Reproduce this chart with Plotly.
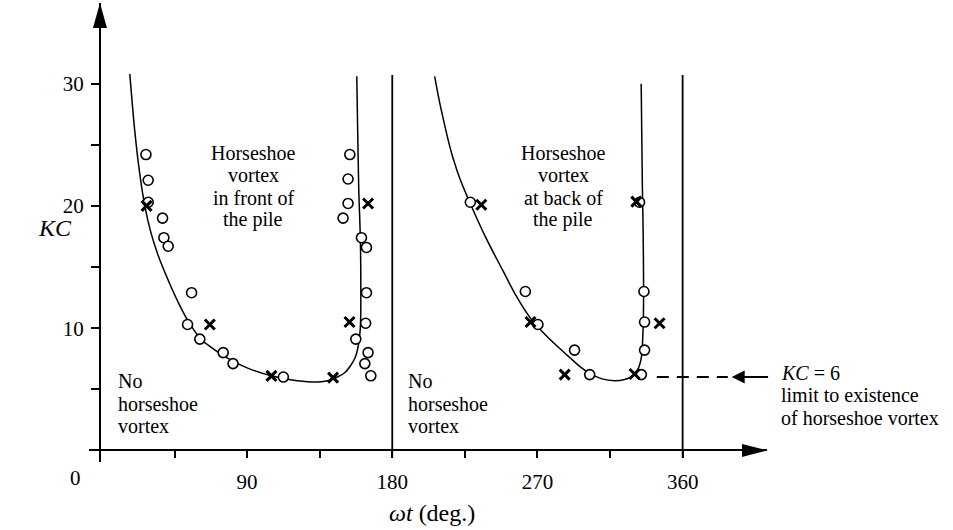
import plotly.graph_objects as go

# ---- data -------------------------------------------------------------
# Open circles: horseshoe vortex observed (phase angle in degrees, KC)
circle_deg = [27.3, 28.7, 28.7, 37.6, 38.4, 41.1, 55.6, 53.1, 60.7, 75.2, 81.3, 112.5,
              153.7, 152.6, 152.6, 149.5, 160.9, 164.0, 164.0, 163.5, 157.4, 165.0, 163.0, 166.7,
              228.4, 262.5, 270.3, 293.0, 302.4, 334.4, 333.3, 336.0, 336.4, 336.4]
circle_kc = [24.2, 22.1, 20.3, 19.0, 17.4, 16.7, 12.9, 10.3, 9.1, 8.0, 7.1, 6.0,
             24.2, 22.2, 20.2, 19.0, 17.4, 16.6, 12.9, 10.4, 9.1, 8.0, 7.1, 6.1,
             20.3, 13.0, 10.3, 8.2, 6.2, 6.2, 20.3, 13.0, 10.5, 8.2]

# Crosses: no horseshoe vortex observed
cross_deg = [27.7, 66.9, 105.1, 143.3, 153.5, 165.0,
             235.2, 265.7, 286.9, 330.2, 331.3, 345.7]
cross_kc = [20.0, 10.3, 6.1, 5.95, 10.5, 20.2,
            20.1, 10.5, 6.2, 6.25, 20.35, 10.4]

# Boundary of the region with a horseshoe vortex in front of the pile
front_curve_deg = [17.3, 20.4, 23.5, 26.6, 30.0, 35.0, 41.5, 47.0, 52.5, 60.7, 68.0, 75.2,
                   81.3, 90.0, 105.0, 117.0, 130.0, 140.0, 146.0, 150.5, 154.0, 157.0,
                   159.0, 160.2, 160.5, 160.2, 159.3, 158.7, 158.0]
front_curve_kc = [30.8, 26.1, 22.6, 20.0, 18.0, 15.9, 13.8, 12.2, 10.8, 9.2, 8.4, 7.75,
                  7.3, 6.75, 6.1, 5.78, 5.6, 5.7, 6.0, 6.35, 6.9, 7.6,
                  8.6, 10.0, 13.5, 17.4, 21.0, 25.0, 30.6]

# Boundary of the region with a horseshoe vortex at the back of the pile
back_curve_deg = [206.3, 209.0, 212.0, 215.0, 217.7, 222.0, 228.0, 238.0, 248.6, 257.0,
                  265.2, 270.3, 280.0, 290.0, 296.0, 302.4, 310.0, 317.8, 324.0, 329.0,
                  332.5, 334.4, 335.2, 335.6, 335.8, 335.5, 335.0, 334.3]
back_curve_kc = [30.6, 28.7, 26.9, 25.2, 23.9, 22.2, 20.3, 17.4, 14.7, 12.6,
                 10.9, 10.1, 8.8, 7.6, 6.9, 6.3, 5.85, 5.7, 5.8, 6.1,
                 6.7, 7.6, 9.0, 10.5, 13.1, 18.0, 22.0, 30.0]

x_tick_vals = [45, 90, 135, 180, 225, 270, 315, 360]
x_tick_text = ["", "90", "", "180", "", "270", "", "360"]
y_tick_vals = [5, 10, 15, 20, 25, 30]
y_tick_text = ["", "10", "", "20", "", "30"]

half_cycle_lines = [180, 360]
KC_LIMIT = 6

# ---- layout constants -------------------------------------------------
FONT = "Liberation Serif, Times New Roman, serif"
TICK_SIZE = 21
NOTE_SIZE = 20
LINE_PX = 22.4                         # spacing of stacked text lines, px
L, R, T, B = 89, 186, 3, 68
W, H = 953, 530
PW, PH = W - L - R, H - T - B
X_RANGE = [-8, 412.3]
Y_RANGE = [-0.95, 36.6]
Y_AXIS_AT = -1.2                       # x position of the vertical axis
X_AXIS_POS = (0 - Y_RANGE[0]) / (Y_RANGE[1] - Y_RANGE[0])
Y_AXIS_POS = (Y_AXIS_AT - X_RANGE[0]) / (X_RANGE[1] - X_RANGE[0])
LINE_STEP = LINE_PX * (Y_RANGE[1] - Y_RANGE[0]) / PH   # same spacing in KC units


def paper_x(px):
    return (px - L) / PW


def paper_y(py):
    return (PH - (py - T)) / PH


def note(text, size=NOTE_SIZE, **kw):
    base = dict(text=text, showarrow=False, yanchor="middle",
                font=dict(family=FONT, size=size, color="black"))
    base.update(kw)
    return base


fig = go.Figure()

curve_line = dict(color="black", width=1.5, shape="spline", smoothing=1.0)
fig.add_trace(go.Scatter(x=front_curve_deg, y=front_curve_kc, mode="lines",
                         line=curve_line, hoverinfo="skip"))
fig.add_trace(go.Scatter(x=back_curve_deg, y=back_curve_kc, mode="lines",
                         line=curve_line, hoverinfo="skip"))
fig.add_trace(go.Scatter(x=circle_deg, y=circle_kc, mode="markers", name="vortex",
                         marker=dict(symbol="circle", size=10, color="white",
                                     line=dict(color="black", width=1.6))))
fig.add_trace(go.Scatter(x=cross_deg, y=cross_kc, mode="markers", name="no vortex",
                         marker=dict(symbol="x-thin", size=10, color="black",
                                     line=dict(color="black", width=3))))

shapes = []
for xv in half_cycle_lines:
    shapes.append(dict(type="line", xref="x", yref="y", x0=xv, x1=xv, y0=-0.6, y1=30.7,
                       line=dict(color="black", width=1.8)))
# dashed KC limit line
shapes.append(dict(type="line", xref="x", yref="y", x0=344, x1=388, y0=KC_LIMIT, y1=KC_LIMIT,
                   line=dict(color="black", width=2, dash="12px,8px")))
# axis arrowheads
shapes.append(dict(type="path", xref="x", yref="y", xsizemode="pixel", ysizemode="pixel",
                   xanchor=Y_AXIS_AT, yanchor=Y_RANGE[1], path="M0,0 L-7,-25 L7,-25 Z",
                   fillcolor="black", line=dict(width=0)))
shapes.append(dict(type="path", xref="x", yref="y", xsizemode="pixel", ysizemode="pixel",
                   xanchor=X_RANGE[1], yanchor=0, path="M0,0 L-25,6.5 L-25,-6.5 Z",
                   fillcolor="black", line=dict(width=0)))

annotations = []


def add_block(lines, x, y_top, xanchor):
    for i, txt in enumerate(lines):
        annotations.append(note(txt, x=x, y=y_top - i * LINE_STEP, xref="x", yref="y",
                                xanchor=xanchor))


add_block(["Horseshoe", "vortex", "in front of", "the pile"], 93.9, 24.35, "center")
add_block(["Horseshoe", "vortex", "at back of", "the pile"], 286.0, 24.35, "center")
add_block(["No", "horseshoe", "vortex"], 9.0, 5.66, "left")
add_block(["No", "horseshoe", "vortex"], 188.8, 5.66, "left")

# KC limit arrow and its note
annotations.append(dict(x=390.4, y=KC_LIMIT, ax=413.9, ay=KC_LIMIT, xref="x", yref="y",
                        axref="x", ayref="y", text="", showarrow=True, arrowhead=2,
                        arrowsize=1.3, arrowwidth=2, arrowcolor="black"))
for i, txt in enumerate(["<i>KC</i> = 6", "limit to existence", "of horseshoe vortex"]):
    annotations.append(note(txt, x=paper_x(779), y=paper_y(372.8 + i * LINE_PX),
                            xref="paper", yref="paper", xanchor="left"))

# axis titles and origin label
annotations.append(note("<i>KC</i>", size=24, x=paper_x(55), y=paper_y(228),
                        xref="paper", yref="paper", xanchor="center"))
annotations.append(note("<i>ωt</i> (deg.)", size=24, x=paper_x(432), y=paper_y(513),
                        xref="paper", yref="paper", xanchor="center"))
annotations.append(note("0", size=TICK_SIZE, x=paper_x(75), y=paper_y(478),
                        xref="paper", yref="paper", xanchor="center"))

tick_font = dict(family=FONT, size=TICK_SIZE, color="black")
fig.update_layout(
    width=W, height=H,
    margin=dict(l=L, r=R, t=T, b=B),
    paper_bgcolor="white", plot_bgcolor="white",
    showlegend=False,
    shapes=shapes,
    annotations=annotations,
    xaxis=dict(range=X_RANGE, anchor="free", position=X_AXIS_POS, showline=True,
               linecolor="black", linewidth=2, ticks="outside", ticklen=7, tickwidth=1.5,
               tickcolor="black", tickvals=x_tick_vals, ticktext=x_tick_text,
               tickfont=tick_font, ticklabelstandoff=5,
               showgrid=False, zeroline=False),
    yaxis=dict(range=Y_RANGE, anchor="free", position=Y_AXIS_POS, showline=True,
               linecolor="black", linewidth=2, ticks="outside", ticklen=8, tickwidth=1.5,
               tickcolor="black", tickvals=y_tick_vals, ticktext=y_tick_text,
               tickfont=tick_font, ticklabelstandoff=3,
               showgrid=False, zeroline=False),
)

fig.write_html("out.html")
